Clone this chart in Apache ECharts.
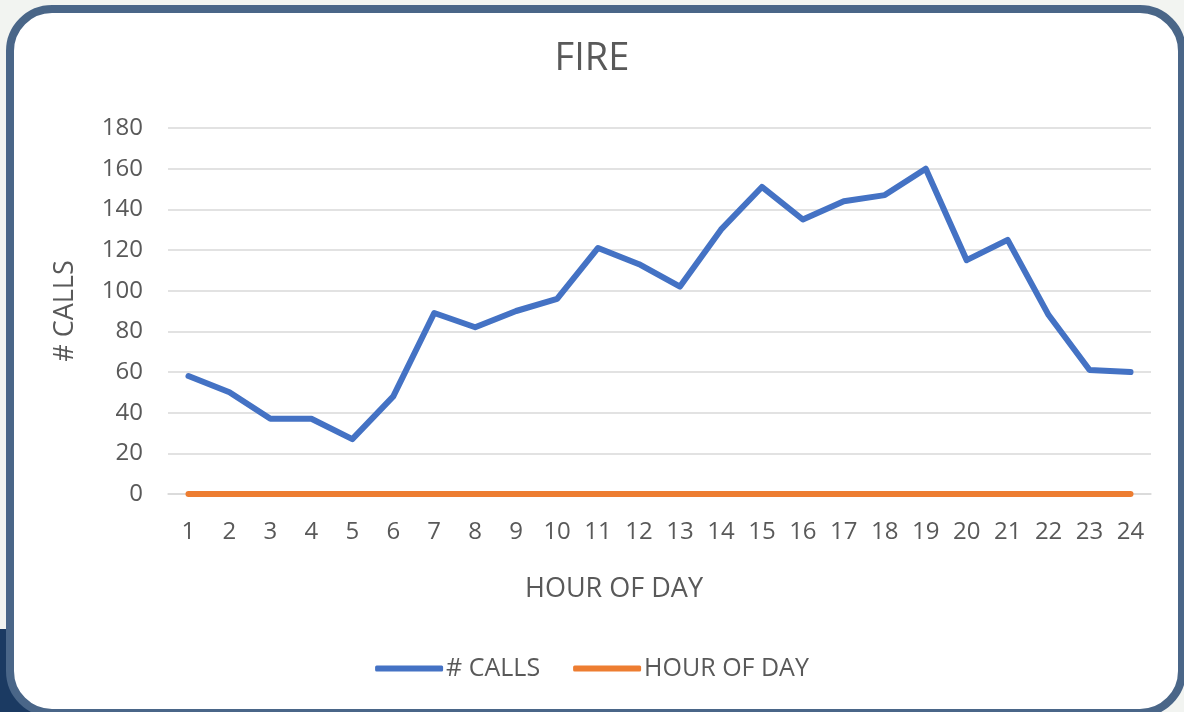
<!DOCTYPE html>
<html>
<head>
<meta charset="utf-8">
<title>FIRE</title>
<script src="https://cdn.jsdelivr.net/npm/echarts@6/dist/echarts.min.js"></script>
<style>
    html, body {
        margin: 0;
        padding: 0;
        width: 1184px;
        height: 712px;
        overflow: hidden;
        background: #f2f4f1;
    }
    #corner {
        position: absolute;
        left: 0;
        top: 629px;
        width: 60px;
        height: 83px;
        background: #1b3a62;
    }
    #frame {
        position: absolute;
        left: 6px;
        top: 5px;
        width: 1164px;
        height: 696px;
        border: 8px solid #4a6688;
        border-radius: 46px;
        background: #ffffff;
    }
    #chart {
        position: absolute;
        left: 0;
        top: 0;
        width: 1184px;
        height: 712px;
    }
</style>
</head>
<body>
<div id="corner"></div>
<div id="frame"></div>
<div id="chart"></div>
<script>
    const hours = ['1', '2', '3', '4', '5', '6', '7', '8', '9', '10', '11', '12',
        '13', '14', '15', '16', '17', '18', '19', '20', '21', '22', '23', '24'];
    const calls = [58, 50, 37, 37, 27, 48, 89, 82, 90, 96, 121, 113,
        102, 130, 151, 135, 144, 147, 160, 115, 125, 88, 61, 60];
    const hourOfDay = [0, 0, 0, 0, 0, 0, 0, 0, 0, 0, 0, 0,
        0, 0, 0, 0, 0, 0, 0, 0, 0, 0, 0, 0];

    const textColor = '#595959';
    const fontFamily = '"Open Sans", sans-serif';

    const myChart = echarts.init(document.getElementById('chart'));

    const option = {
        backgroundColor: 'transparent',
        animation: false,
        textStyle: {
            fontFamily: fontFamily
        },
        title: {
            text: 'FIRE',
            left: 'center',
            top: 35,
            textStyle: {
                color: textColor,
                fontSize: 38,
                fontWeight: 'normal',
                fontFamily: fontFamily
            }
        },
        legend: {
            bottom: 26,
            left: 'center',
            itemWidth: 68,
            itemHeight: 6,
            itemGap: 33,
            icon: 'roundRect',
            textStyle: {
                color: textColor,
                fontSize: 25,
                padding: [0, 0, 0, -2]
            },
            data: ['# CALLS', 'HOUR OF DAY']
        },
        grid: {
            left: 168,
            right: 33,
            top: 128,
            bottom: 218
        },
        xAxis: {
            type: 'category',
            data: hours,
            boundaryGap: true,
            name: 'HOUR OF DAY',
            nameLocation: 'middle',
            nameGap: 82,
            nameTextStyle: {
                color: textColor,
                fontSize: 27,
                padding: [0, 91, 0, 0]
            },
            axisLine: {
                lineStyle: {
                    color: '#d9d9d9',
                    width: 1.5
                }
            },
            axisTick: {
                show: false
            },
            axisLabel: {
                color: textColor,
                fontSize: 24,
                margin: 26
            }
        },
        yAxis: {
            type: 'value',
            min: 0,
            max: 180,
            interval: 20,
            name: '# CALLS',
            nameLocation: 'middle',
            nameGap: 89,
            nameRotate: 90,
            nameTextStyle: {
                color: textColor,
                fontSize: 27
            },
            axisLine: {
                show: false
            },
            axisTick: {
                show: false
            },
            axisLabel: {
                color: textColor,
                fontSize: 24,
                margin: 25
            },
            splitLine: {
                lineStyle: {
                    color: '#d9d9d9',
                    width: 1.5
                }
            }
        },
        series: [
            {
                name: '# CALLS',
                type: 'line',
                data: calls,
                symbol: 'none',
                color: '#4472c4',
                lineStyle: {
                    width: 6,
                    color: '#4472c4',
                    join: 'round',
                    cap: 'round'
                }
            },
            {
                name: 'HOUR OF DAY',
                type: 'line',
                data: hourOfDay,
                symbol: 'none',
                color: '#ed7d31',
                lineStyle: {
                    width: 6,
                    color: '#ed7d31',
                    cap: 'round'
                }
            }
        ]
    };

    myChart.setOption(option);
</script>
</body>
</html>
